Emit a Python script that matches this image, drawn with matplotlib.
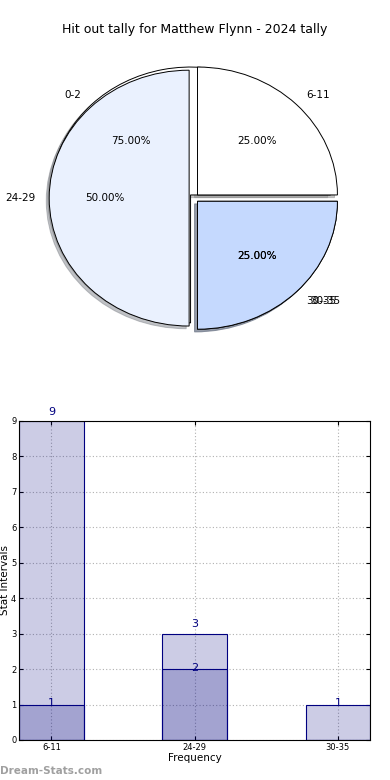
import numpy as np
import matplotlib
matplotlib.use('Agg')
import matplotlib.pyplot as plt

title = 'Hit out tally for Matthew Flynn - 2024 tally'

# pie drawn underneath
pie_a_labels = ['0-2', '30-35']
pie_a_values = [3, 1]
# pie drawn on top
pie_b_labels = ['6-11', '24-29', '30-35']
pie_b_values = [1, 2, 1]

bar_labels = ['6-11', '24-29', '30-35']
bar_totals = [9, 3, 1]
bar_inner = [1, 2, 0]

pie_colors = ['#ffffff', '#eaf1fe', '#c5d9fe']

fig = plt.figure(figsize=(3.9, 7.8), dpi=100)
fig.text(0.5, 0.962, title, ha='center', va='center', fontsize=9)

ax1 = fig.add_axes([0.049, 0.541, 0.897, 0.41])
wp = dict(edgecolor='black', linewidth=0.7)
shad = dict(ox=-0.015, oy=-0.015, shade=0.45)
_, texts_a, _ = ax1.pie(pie_a_values, labels=pie_a_labels, colors=pie_colors[:2],
                        explode=[0.035] * 2, autopct='%.2f%%', shadow=shad,
                        wedgeprops=wp, textprops=dict(fontsize=7.5))
# the two "30-35" labels sit slightly apart in the original
texts_a[1].set_x(texts_a[1].get_position()[0] + 0.03)
ax1.pie(pie_b_values, labels=pie_b_labels, colors=pie_colors, explode=[0.035] * 3,
        autopct='%.2f%%', shadow=shad, wedgeprops=wp,
        textprops=dict(fontsize=7.5))
ax1.set_aspect('auto')
ax1.set_xlim(-1.25, 1.25)
ax1.set_ylim(-1.25, 1.25)

ax2 = fig.add_axes([0.049, 0.0513, 0.9, 0.409])
x = np.arange(len(bar_labels))
fc = (0, 0, 0.5, 0.2)
ax2.bar(x, bar_totals, width=0.45, facecolor=fc, edgecolor='navy', linewidth=0.8, zorder=2)
ax2.bar(x, bar_inner, width=0.45, facecolor=fc, edgecolor='navy', linewidth=0.8, zorder=2)
for xi, v in zip(x, bar_totals):
    if v >= 3:
        ax2.text(xi, v + 0.12, str(v), ha='center', va='bottom', color='navy',
                 fontsize=8, zorder=3)
    else:
        ax2.text(xi, v + 0.03, str(v), ha='center', va='center', color='navy',
                 fontsize=8, zorder=3)
for xi, v in zip(x, bar_inner):
    if v > 0:
        ax2.text(xi, v + 0.03, str(v), ha='center', va='center', color='navy',
                 fontsize=8, zorder=3)
ax2.set_xlim(-0.225, 2.225)
ax2.set_ylim(0, 9)
ax2.set_xticks(x)
ax2.set_xticklabels(bar_labels)
ax2.set_yticks(range(10))
ax2.tick_params(labelsize=6, direction='in', top=True, right=True, length=3, pad=2)
ax2.grid(True, linestyle=(0, (1, 2)), color='#b0b0b0', linewidth=0.8, zorder=1)
ax2.set_axisbelow(True)
ax2.set_xlabel('Frequency', fontsize=7.5, labelpad=1)
ax2.set_ylabel('Stat Intervals', fontsize=7.5, labelpad=1)

fig.text(0.0, 0.012, 'Dream-Stats.com', ha='left', va='center', fontsize=7.5,
         fontweight='bold', color='#a0a0a0')

fig.savefig('out.png', dpi=100)
